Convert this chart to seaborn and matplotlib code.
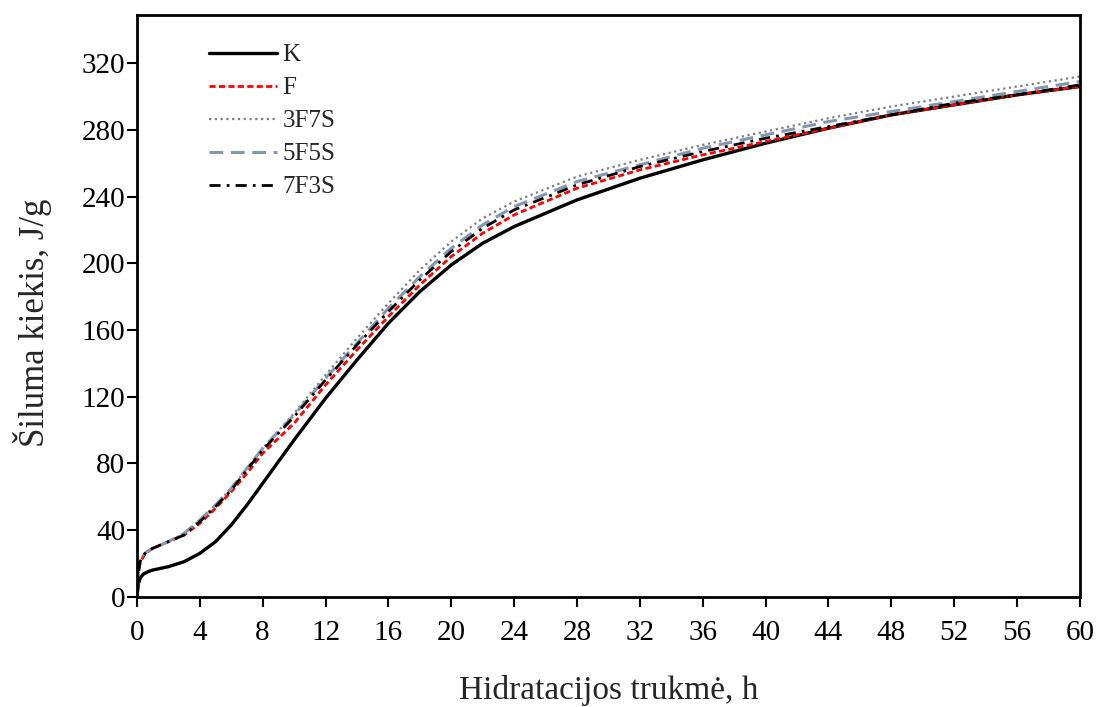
import matplotlib
matplotlib.use("Agg")
import matplotlib.pyplot as plt
import seaborn as sns
import pandas as pd

# Hydration time, h
hours = [0, 0.1, 0.2, 0.4, 0.7, 1, 1.5, 2, 3, 4, 5, 6, 7, 8, 10, 12, 14, 16, 18,
         20, 22, 24, 28, 32, 36, 40, 44, 48, 52, 56, 60]

# Cumulative heat of hydration, J/g
heat_K = [0, 8, 11, 13.5, 15, 16, 17, 18, 21, 26, 33, 43, 55, 68, 94, 119, 142, 164, 183,
          199, 212, 222, 238, 251, 262, 272, 281, 289, 295, 301, 306]
heat_F = [0, 14, 20, 24, 27, 29, 31, 33, 37, 44, 53, 63, 74, 86, 104, 127, 148, 168, 187,
          204, 218, 229, 245, 256, 265, 273, 281, 289, 295, 301, 306]
heat_3F7S = [0, 15, 21, 25, 27.5, 29, 31, 33, 38, 46, 55, 65, 77, 89, 110, 133, 155, 176, 196,
             213, 227, 237, 252, 262, 271, 279, 287, 294, 300, 306, 312]
heat_5F5S = [0, 15, 21, 25, 27.5, 29, 31, 33, 38, 46, 55, 65, 77, 89, 109, 131, 152, 173, 192,
             209, 223, 234, 249, 259, 269, 277, 285, 291, 297, 303, 309]
heat_7F3S = [0, 15, 21, 25, 27.5, 29, 31, 33, 37, 45, 54, 64, 76, 88, 108, 130, 151, 171, 190,
             207, 221, 232, 247, 258, 267, 275, 282, 289, 296, 301, 307]

series = {"K": heat_K, "F": heat_F, "3F7S": heat_3F7S, "5F5S": heat_5F5S, "7F3S": heat_7F3S}
styles = {
    "K": dict(color="black", linestyle="-", linewidth=2.4),
    "F": dict(color="#ff0000", linestyle=(0, (2.2, 1.2)), linewidth=2.0),
    "3F7S": dict(color="#7f7f7f", linestyle=(0, (1, 1.6)), linewidth=1.6),
    "5F5S": dict(color="#8497b0", linestyle=(0, (4.5, 2.5)), linewidth=2.2),
    "7F3S": dict(color="black", linestyle=(0, (4, 2.2, 1, 2.2)), linewidth=2.0),
}

df = pd.DataFrame([
    {"hours": h, "heat": v, "mix": name}
    for name, vals in series.items() for h, v in zip(hours, vals)
])

sns.set_style("white")
plt.rcParams["font.family"] = ["Liberation Serif", "DejaVu Serif"]

fig = plt.figure(figsize=(11.08, 7.07), dpi=100)
ax = fig.add_axes([0.1236, 0.156, 0.851, 0.823])

for name in series:
    sns.lineplot(data=df[df["mix"] == name], x="hours", y="heat", ax=ax,
                 label=name, **styles[name])

ax.set_xlim(0, 60)
ax.set_ylim(0, 349)
ax.set_xticks(range(0, 61, 4))
ax.set_yticks(range(0, 321, 40))
ax.tick_params(axis="both", direction="out", length=7, width=1.5, labelsize=21,
               bottom=True, left=True, colors="black")
ax.tick_params(axis="x", pad=10)
ax.tick_params(axis="y", pad=1.5)
for sp in ax.spines.values():
    sp.set_visible(True)
    sp.set_color("black")
    sp.set_linewidth(2)

ax.set_xlabel("Hidratacijos trukmė, h", fontsize=24, labelpad=21)
ax.set_ylabel("Šiluma kiekis, J/g", fontsize=25)
ax.yaxis.set_label_coords(-0.09, 0.47)

leg = ax.legend(loc="upper left", bbox_to_anchor=(0.076, 0.95), frameon=False,
                borderpad=0, borderaxespad=0, fontsize=18, handlelength=2.75,
                labelspacing=0.42, handletextpad=0.2)

fig.savefig("out.png", dpi=100)
